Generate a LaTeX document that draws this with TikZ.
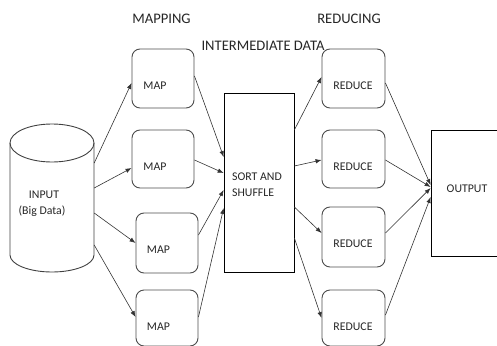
\documentclass[tikz,border=0pt]{standalone}
\usepackage{fontspec}
\setmainfont{Carlito}
\usetikzlibrary{calc,arrows.meta}
\begin{document}
\begin{tikzpicture}[x=1pt,y=-1pt,
  box/.style={draw=black!70,line width=0.9pt,rounded corners=8pt,inner sep=0pt},
  plain/.style={draw=black,line width=0.7pt,inner sep=0pt},
  txt/.style={inner sep=0pt,text=black!85,font=\fontsize{11.8pt}{14pt}\selectfont},
  head/.style={inner sep=0pt,text=black!85,font=\fontsize{14.6pt}{17pt}\selectfont},
  flow/.style={draw=black!80,line width=0.6pt,-{Latex[length=6pt,width=4.5pt]}}]
\useasboundingbox (0,0) rectangle (497,345);

% headings
\node[head] (hmap) at (161.5,19) {MAPPING};
\node[head] (hred) at (349,19) {REDUCING};
\node[head] (hmid) at (263,46) {INTERMEDIATE DATA};

% input store (cylinder)
\node[minimum width=84pt,minimum height=148pt,inner sep=0pt] (in) at (52,198) {};
\draw[line width=0.9pt,draw=black!75] (52,143) ellipse [x radius=42pt,y radius=19pt];
\draw[line width=0.9pt,draw=black!75] (10,143) -- (10,255)
  arc[start angle=180,end angle=360,x radius=42pt,y radius=17pt] -- (94,143);
\node[txt] (intxt) at (44,195) {INPUT};
\node[txt] (inbig) at (42,211) {(Big Data)};

% map tasks
\node[box,minimum width=62pt,minimum height=59pt] (map1) at (163,78.5) {};
\node[box,minimum width=62pt,minimum height=58pt] (map2) at (163,159) {};
\node[box,minimum width=62pt,minimum height=60pt] (map3) at (167,243) {};
\node[box,minimum width=62pt,minimum height=56pt] (map4) at (167,318) {};
\node[txt] (m1t) at (155,86) {MAP};
\node[txt] (m2t) at (155,167) {MAP};
\node[txt] (m3t) at (158.5,250) {MAP};
\node[txt] (m4t) at (158.5,327) {MAP};

% sort and shuffle
\node[plain,minimum width=70pt,minimum height=179pt] (sort) at (259,182.5) {};
\node[txt,anchor=west] (s1) at (232,177) {SORT AND};
\node[txt,anchor=west] (s2) at (232,193) {SHUFFLE};

% reduce tasks
\node[box,minimum width=63pt,minimum height=59pt] (r1) at (353.5,78.5) {};
\node[box,minimum width=63pt,minimum height=58pt] (r2) at (353.5,159) {};
\node[box,minimum width=63pt,minimum height=60pt] (r3) at (353.5,237) {};
\node[box,minimum width=63pt,minimum height=56pt] (r4) at (353.5,318) {};
\node[txt] (r1t) at (353,86) {REDUCE};
\node[txt] (r2t) at (353,167) {REDUCE};
\node[txt] (r3t) at (353,244) {REDUCE};
\node[txt] (r4t) at (353,327) {REDUCE};

% output
\node[plain,minimum width=80pt,minimum height=126pt] (out) at (471,193) {};
\node[txt] (outt) at (467,189) {OUTPUT};

% input -> map
\draw[flow] ($(in.east)+(0,-35)$) -- ($(map1.west)+(0,4.5)$);
\draw[flow] ($(in.east)+(0,-10)$) -- ($(map2.west)+(0,9)$);
\draw[flow] ($(in.east)+(0,15)$) -- ($(map3.west)+(0,0)$);
\draw[flow] ($(in.east)+(0,47)$) -- ($(map4.west)+(0,-1)$);

% map -> sort
\draw[flow] ($(map1.east)+(0,-2.5)$) -- ($(sort.west)+(0,-25.5)$);
\draw[flow] ($(map2.east)+(0,1)$) -- ($(sort.west)+(0,-9.5)$);
\draw[flow] ($(map3.east)+(0,-8)$) -- ($(sort.west)+(0,7.5)$);
\draw[flow] ($(map4.east)+(0,-1)$) -- ($(sort.west)+(0,25.5)$);

% sort -> reduce
\draw[flow] ($(sort.east)+(0,-52.5)$) -- ($(r1.west)+(0,-1.5)$);
\draw[flow] ($(sort.east)+(0,-16.5)$) -- ($(r2.west)+(0,1)$);
\draw[flow] ($(sort.east)+(0,24.5)$) -- ($(r3.west)+(0,-4)$);
\draw[flow] ($(sort.east)+(0,55.5)$) -- ($(r4.west)+(0,0)$);

% reduce -> output
\draw[flow] ($(r1.east)+(0,4.5)$) -- ($(out.west)+(0,-8)$);
\draw[flow] ($(r2.east)+(0,1)$) -- ($(out.west)+(0,-6)$);
\draw[flow] ($(r3.east)+(0,-4)$) -- ($(out.west)+(0,-5)$);
\draw[flow] ($(r4.east)+(0,-3)$) -- ($(out.west)+(0,4)$);
\end{tikzpicture}
\end{document}
